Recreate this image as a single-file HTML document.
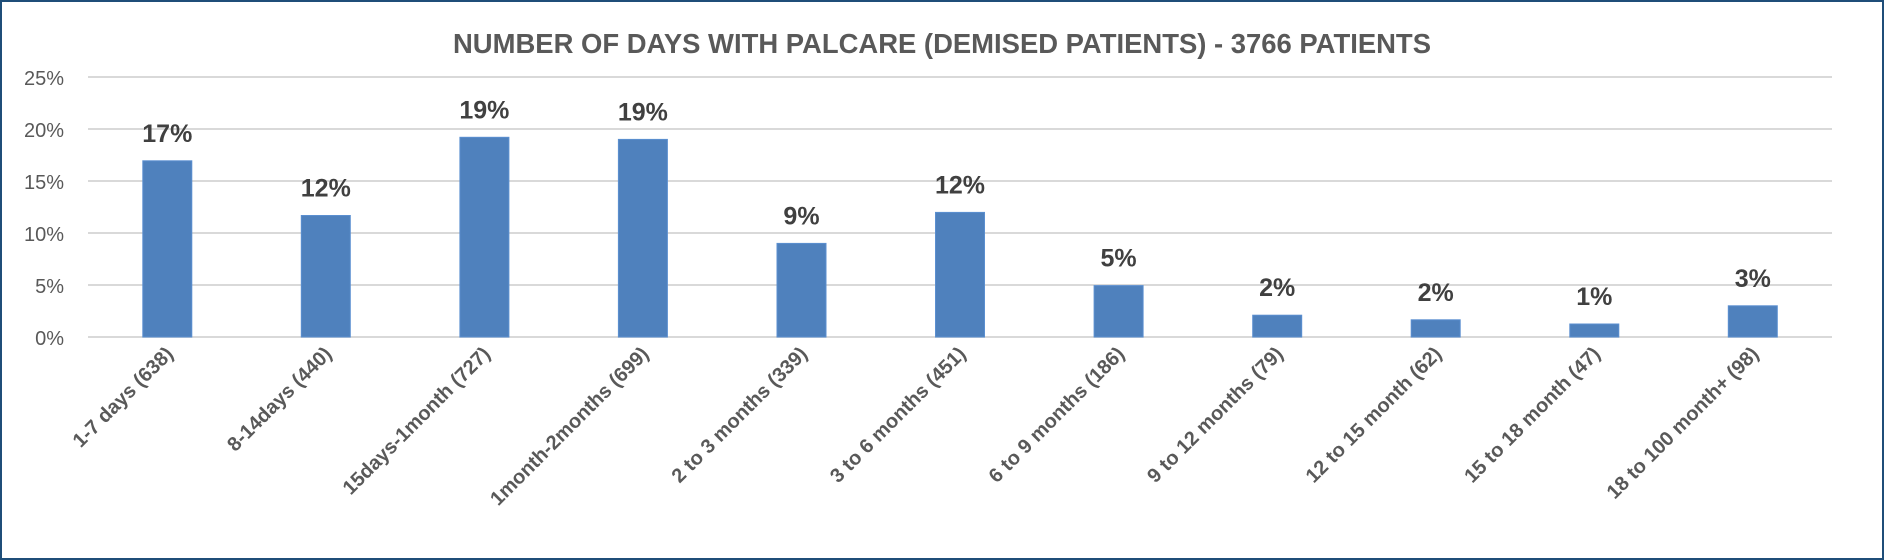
<!DOCTYPE html>
<html><head><meta charset="utf-8"><style>
html,body{margin:0;padding:0;background:#fff;}
svg{display:block;}
</style></head><body>
<svg width="1884" height="560" viewBox="0 0 1884 560" xmlns="http://www.w3.org/2000/svg" font-family="'Liberation Sans', sans-serif">
<rect x="1" y="1" width="1882" height="558" fill="#fff" stroke="#1F4E79" stroke-width="2"/>
<text x="942" y="53" text-anchor="middle" font-size="28" font-weight="bold" fill="#595959" textLength="978" lengthAdjust="spacingAndGlyphs">NUMBER OF DAYS WITH PALCARE (DEMISED PATIENTS) - 3766 PATIENTS</text>
<g stroke="#d9d9d9" stroke-width="2">
<line x1="88" x2="1832" y1="77" y2="77"/>
<line x1="88" x2="1832" y1="129" y2="129"/>
<line x1="88" x2="1832" y1="181" y2="181"/>
<line x1="88" x2="1832" y1="233" y2="233"/>
<line x1="88" x2="1832" y1="285" y2="285"/>
<line x1="88" x2="1832" y1="337" y2="337"/>
</g>
<g font-size="20" fill="#595959" text-anchor="end">
<text x="64" y="85">25%</text>
<text x="64" y="137">20%</text>
<text x="64" y="189">15%</text>
<text x="64" y="241">10%</text>
<text x="64" y="293">5%</text>
<text x="64" y="345">0%</text>
</g>
<g fill="#4F81BD" stroke="#5B8FD0" stroke-width="1">
<rect x="142.8" y="160.8" width="49" height="176.2"/>
<rect x="301.3" y="215.5" width="49" height="121.5"/>
<rect x="459.9" y="137.3" width="49" height="199.7"/>
<rect x="618.4" y="139.4" width="49" height="197.6"/>
<rect x="777.0" y="243.4" width="49" height="93.6"/>
<rect x="935.5" y="212.4" width="49" height="124.6"/>
<rect x="1094.1" y="285.6" width="49" height="51.4"/>
<rect x="1252.7" y="315.2" width="49" height="21.8"/>
<rect x="1411.2" y="319.8" width="49" height="17.2"/>
<rect x="1569.8" y="324.0" width="49" height="13.0"/>
<rect x="1728.3" y="305.8" width="49" height="31.2"/>
</g>
<g font-size="25" font-weight="bold" fill="#404040" text-anchor="middle">
<text x="167.3" y="141.8">17%</text>
<text x="325.8" y="196.5">12%</text>
<text x="484.4" y="118.3">19%</text>
<text x="642.9" y="120.4">19%</text>
<text x="801.5" y="224.4">9%</text>
<text x="960.0" y="193.4">12%</text>
<text x="1118.6" y="266.6">5%</text>
<text x="1277.2" y="296.2">2%</text>
<text x="1435.7" y="300.8">2%</text>
<text x="1594.3" y="305">1%</text>
<text x="1752.8" y="286.8">3%</text>
</g>
<g font-size="20" font-weight="bold" fill="#595959" text-anchor="end">
<text x="174.3" y="355" transform="rotate(-45 174.3 355)">1-7 days (638)</text>
<text x="332.8" y="355" transform="rotate(-45 332.8 355)">8-14days (440)</text>
<text x="491.4" y="355" transform="rotate(-45 491.4 355)">15days-1month (727)</text>
<text x="649.9" y="355" transform="rotate(-45 649.9 355)">1month-2months (699)</text>
<text x="808.5" y="355" transform="rotate(-45 808.5 355)">2 to 3 months (339)</text>
<text x="967.0" y="355" transform="rotate(-45 967.0 355)">3 to 6 months (451)</text>
<text x="1125.6" y="355" transform="rotate(-45 1125.6 355)">6 to 9 months (186)</text>
<text x="1284.2" y="355" transform="rotate(-45 1284.2 355)">9 to 12 months (79)</text>
<text x="1442.7" y="355" transform="rotate(-45 1442.7 355)">12 to 15 month (62)</text>
<text x="1601.3" y="355" transform="rotate(-45 1601.3 355)">15 to 18 month (47)</text>
<text x="1759.8" y="355" transform="rotate(-45 1759.8 355)">18 to 100 month+ (98)</text>
</g>
</svg>
</body></html>
